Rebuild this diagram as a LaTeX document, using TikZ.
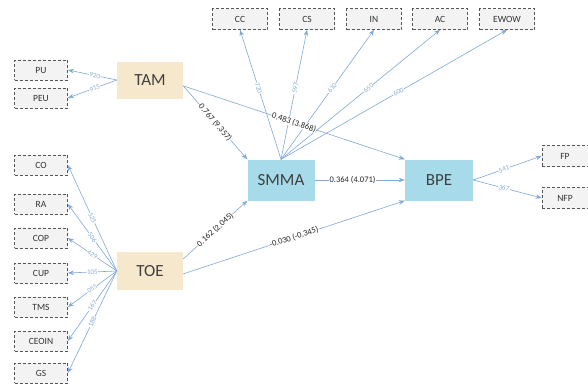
\documentclass[tikz,border=0pt]{standalone}
\usepackage{fontspec}
\setmainfont{Carlito}
\usetikzlibrary{arrows.meta}
\definecolor{arrowc}{HTML}{7FA8D4}
\definecolor{loadc}{HTML}{8AAED2}
\definecolor{latblue}{HTML}{A8DBEA}
\definecolor{latbeige}{HTML}{F6E8CC}
\definecolor{indbox}{HTML}{F3F3F3}
\definecolor{indline}{HTML}{555555}
\tikzset{
  ind/.style={draw=indline, densely dashed, line width=0.7pt, fill=indbox, minimum width=53pt, minimum height=20pt, inner sep=0pt, font=\fontsize{9.5}{10}\selectfont, text=black!80},
  lat/.style={minimum width=66pt, minimum height=37pt, inner sep=0pt, font=\fontsize{17}{18}\selectfont, text=black!75},
  conn/.style={draw=arrowc, line width=0.6pt, -{Stealth[length=6pt,width=4.5pt]}},
  load/.style={font=\fontsize{7}{8}\selectfont, text=loadc, sloped, fill=white, inner sep=0.5pt},
  path/.style={font=\fontsize{8.5}{9}\selectfont, text=black!85, sloped, fill=white, inner sep=0.3pt}
}
\begin{document}
\begin{tikzpicture}[x=1pt,y=-1pt]
\useasboundingbox (0,0) rectangle (588,388);
% latent variables
\node[lat, fill=latbeige] (TAM) at (150,80) {TAM};
\node[lat, fill=latbeige, minimum height=38pt] (TOE) at (150,271) {TOE};
\node[lat, fill=latblue, minimum width=67pt, minimum height=41pt] (SMMA) at (281,180) {SMMA};
\node[lat, fill=latblue, minimum width=68pt, minimum height=41pt] (BPE) at (439,180) {BPE};
% TAM indicators
\node[ind] (PU) at (41,70) {PU};
\node[ind] (PEU) at (41,98) {PEU};
% TOE indicators
\node[ind] (CO) at (41,165) {CO};
\node[ind] (RA) at (41,204) {RA};
\node[ind] (COP) at (41,238) {COP};
\node[ind] (CUP) at (41,273) {CUP};
\node[ind] (TMS) at (41,307) {TMS};
\node[ind] (CEOIN) at (41,341) {CEOIN};
\node[ind] (GS) at (41,373) {GS};
% SMMA indicators
\node[ind, minimum width=55pt, minimum height=21pt] (CC) at (240,19) {CC};
\node[ind, minimum width=55pt, minimum height=21pt] (CS) at (307,19) {CS};
\node[ind, minimum width=55pt, minimum height=21pt] (IN) at (374,19) {IN};
\node[ind, minimum width=55pt, minimum height=21pt] (AC) at (440,19) {AC};
\node[ind, minimum width=55pt, minimum height=21pt] (EWOW) at (507,19) {EWOW};
% BPE indicators
\node[ind, minimum width=46pt, minimum height=21pt] (FP) at (565,156) {FP};
\node[ind, minimum width=46pt, minimum height=21pt] (NFP) at (565,198) {NFP};
% loadings
\draw[conn] (TAM.west) -- node[load, pos=0.45] {920} (PU.east);
\draw[conn] (TAM.west) -- node[load, pos=0.45] {915} (PEU.east);
\draw[conn] (TOE.west) -- node[load, pos=0.5] {525} (CO.east);
\draw[conn] (TOE.west) -- node[load, pos=0.5] {506} (RA.east);
\draw[conn] (TOE.west) -- node[load, pos=0.5] {429} (COP.east);
\draw[conn] (TOE.west) -- node[load, pos=0.5] {105} (CUP.east);
\draw[conn] (TOE.west) -- node[load, pos=0.5] {055} (TMS.east);
\draw[conn] (TOE.west) -- node[load, pos=0.5] {167} (CEOIN.east);
\draw[conn] (TOE.west) -- node[load, pos=0.5] {188} (GS.east);
\draw[conn] (SMMA.north) -- node[load, pos=0.55] {720} (CC.south);
\draw[conn] (SMMA.north) -- node[load, pos=0.55] {597} (CS.south);
\draw[conn] (SMMA.north) -- node[load, pos=0.55] {610} (IN.south);
\draw[conn] (SMMA.north) -- node[load, pos=0.55] {650} (AC.south);
\draw[conn] (SMMA.north) -- node[load, pos=0.52] {600} (EWOW.south);
\draw[conn] (BPE.east) -- node[load, pos=0.45] {541} (FP.west);
\draw[conn] (BPE.east) -- node[load, pos=0.45] {367} (NFP.west);
% structural paths
\draw[conn] (TAM.-10) -- node[path, pos=0.5] {0.767 (9.357)} (SMMA.north west);
\draw[conn] (TAM.-10) -- node[path, pos=0.5] {0.483 (3.868)} (BPE.north west);
\draw[conn] (SMMA.east) -- node[path, pos=0.42] {0.364 (4.071)} (BPE.west);
\draw[conn] (TOE.20) -- node[path, pos=0.5] {0.162 (2.045)} (SMMA.south west);
\draw[conn] (TOE.-5) -- node[path, pos=0.5] {-0.030 (-0.345)} (BPE.south west);
\end{tikzpicture}
\end{document}
